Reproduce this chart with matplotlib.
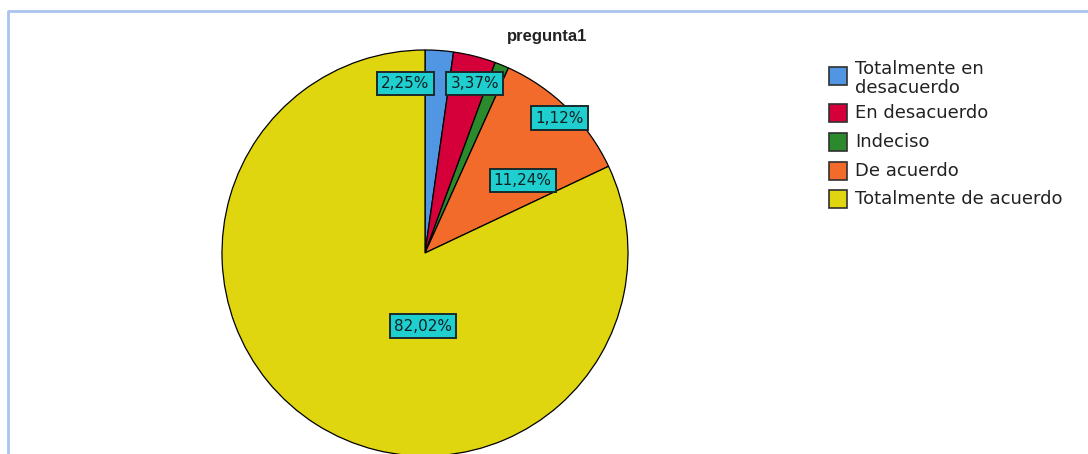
import matplotlib.pyplot as plt
from matplotlib.patches import Rectangle
import numpy as np

# Datos
categorias = ["Totalmente en\ndesacuerdo", "En desacuerdo", "Indeciso", "De acuerdo", "Totalmente de acuerdo"]
frecuencias = [2, 3, 1, 10, 73]
etiquetas = ["2,25%", "3,37%", "1,12%", "11,24%", "82,02%"]
colores = ["#5096e2", "#d5003a", "#2b8a2b", "#f26b2b", "#e0d60f"]

# Posicion de las etiquetas (angulo desde las 12 en sentido horario, fraccion del radio)
etq_angulo = [-6.7, 16.4, 45.0, 53.4, 181.5]
etq_radio = [0.84, 0.87, 0.94, 0.60, 0.36]

W, H = 1088, 454
fig = plt.figure(figsize=(W / 100, H / 100), dpi=100)
ax = fig.add_axes([0, 0, 1, 1])

# centro y radio del pastel en pixeles (y hacia arriba)
cx, cy, R = 425, H - 253, 203

ax.pie(frecuencias, colors=colores, startangle=90, counterclock=False,
       center=(cx, cy), radius=R,
       wedgeprops=dict(edgecolor="black", linewidth=0.9))

for lab, ang, fr in zip(etiquetas, etq_angulo, etq_radio):
    a = np.deg2rad(ang)
    x = cx + fr * R * np.sin(a)
    y = cy + fr * R * np.cos(a)
    ax.text(x, y, lab, ha="center", va="center", fontsize=11, color="#102020",
            family="DejaVu Sans",
            bbox=dict(boxstyle="square,pad=0.28", facecolor="#1fcfd0", edgecolor="#1a2a2a", linewidth=1.4))

ax.text(547, H - 37, "pregunta1", ha="center", va="center", fontsize=12,
        fontweight="bold", family="Liberation Sans", color="#222222")

# Leyenda
ley_y = [76, 113, 142, 171, 199]
for col, cat, yy in zip(colores, categorias, ley_y):
    ax.add_patch(Rectangle((829, H - yy - 9), 18, 18, facecolor=col,
                           edgecolor="#303030", linewidth=1.2))
    if "\n" in cat:
        ax.text(855, H - 60, cat, ha="left", va="top", fontsize=13,
                family="DejaVu Sans", color="#222222", linespacing=1.08)
    else:
        ax.text(855, H - yy, cat, ha="left", va="center", fontsize=13,
                family="DejaVu Sans", color="#222222")

# Marco
ax.plot([8, 8, W], [0, H - 10.5, H - 10.5], color="#a9c4ee", linewidth=2)

ax.set_xlim(0, W)
ax.set_ylim(0, H)
ax.set_aspect("auto")
ax.axis("off")

fig.savefig("out.png", dpi=100)
